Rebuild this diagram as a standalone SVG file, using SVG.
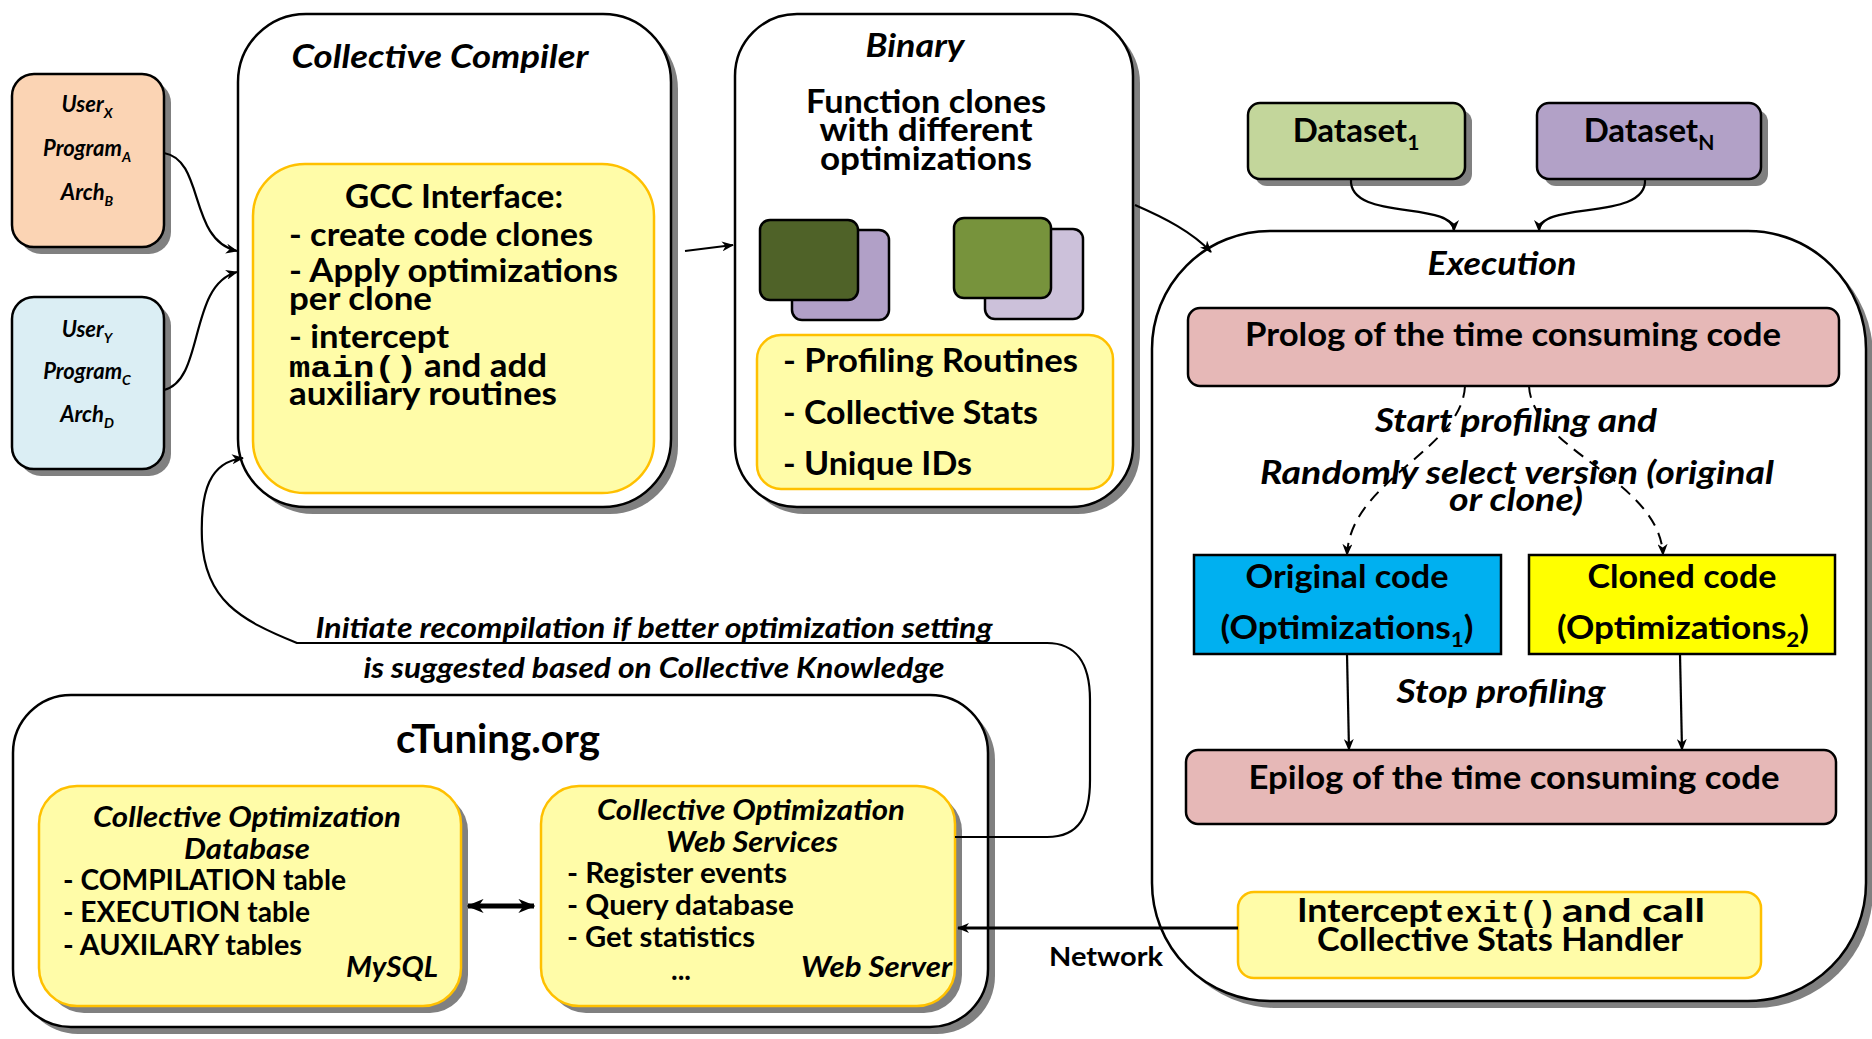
<svg xmlns="http://www.w3.org/2000/svg" width="1872" height="1039" viewBox="0 0 1872 1039">
<defs>
<style>
text{font-family:Lato,"Open Sans","DejaVu Sans",sans-serif;font-weight:bold;fill:#000}
.it{font-style:italic}
.mono{font-family:"Liberation Mono","DejaVu Sans Mono",monospace;font-weight:bold}
.sh{fill:#808080;stroke:none}
.box{stroke:#000;stroke-width:2.5}
.yl{fill:#FFFCA8;stroke:#FFC000;stroke-width:2.5}
.c{text-anchor:middle}
.r{text-anchor:end}
.ln{fill:none;stroke:#000;stroke-width:2.2}
.net{fill:none;stroke:#000;stroke-width:3}
.dbl{fill:none;stroke:#000;stroke-width:5}
.dash{fill:none;stroke:#000;stroke-width:2;stroke-dasharray:12 8}
</style>
<marker id="ah" viewBox="0 0 12 10" refX="11" refY="5" markerWidth="12" markerHeight="10" markerUnits="userSpaceOnUse" orient="auto">
<path d="M0,0 L12,5 L0,10 L3.5,5 z" fill="#000"/>
</marker>
<marker id="ah2" viewBox="0 0 12 10" refX="11" refY="5" markerWidth="17" markerHeight="15" markerUnits="userSpaceOnUse" orient="auto-start-reverse">
<path d="M0,0 L12,5 L0,10 L3.5,5 z" fill="#000"/>
</marker>
</defs>
<rect width="1872" height="1039" fill="#fff"/>

<g id="userX">
<rect class="sh" x="19" y="81" width="152" height="173" rx="22"/>
<rect class="box" x="12" y="74" width="152" height="173" rx="22" fill="#FBD4B4"/>
<text class="c it" x="87" y="112" font-size="22">User<tspan font-size="14" dy="6">X</tspan></text>
<text class="c it" x="87" y="156" font-size="22">Program<tspan font-size="14" dy="6">A</tspan></text>
<text class="c it" x="87" y="200" font-size="22">Arch<tspan font-size="14" dy="6">B</tspan></text>
</g>
<g id="userY">
<rect class="sh" x="19" y="304" width="152" height="172" rx="22"/>
<rect class="box" x="12" y="297" width="152" height="172" rx="22" fill="#DBEEF4"/>
<text class="c it" x="87" y="337" font-size="22">User<tspan font-size="14" dy="6">Y</tspan></text>
<text class="c it" x="87" y="379" font-size="22">Program<tspan font-size="14" dy="6">C</tspan></text>
<text class="c it" x="87" y="422" font-size="22">Arch<tspan font-size="14" dy="6">D</tspan></text>
</g>

<g id="compiler">
<rect class="sh" x="245" y="21" width="433" height="493" rx="68"/>
<rect class="box" x="238" y="14" width="433" height="493" rx="68" fill="#fff"/>
<text class="c it" x="440" y="68" font-size="33" textLength="297" lengthAdjust="spacingAndGlyphs">Collective Compiler</text>
<g id="gcc">
<rect class="yl" x="253" y="164" width="401" height="329" rx="52"/>
<text class="c" x="454" y="208" font-size="33" textLength="218" lengthAdjust="spacingAndGlyphs">GCC Interface:</text>
<text x="289" y="246" font-size="33" textLength="304" lengthAdjust="spacingAndGlyphs">- create code clones</text>
<text x="289" y="282" font-size="33" textLength="329" lengthAdjust="spacingAndGlyphs">- Apply optimizations</text>
<text x="289" y="310" font-size="33" textLength="143" lengthAdjust="spacingAndGlyphs">per clone</text>
<text x="289" y="348" font-size="33" textLength="160" lengthAdjust="spacingAndGlyphs">- intercept</text>
<text class="mono" x="289" y="377" font-size="30" textLength="128" lengthAdjust="spacingAndGlyphs">main()</text>
<text x="424" y="377" font-size="33" textLength="123" lengthAdjust="spacingAndGlyphs">and add</text>
<text x="289" y="405" font-size="33" textLength="268" lengthAdjust="spacingAndGlyphs">auxiliary routines</text>
</g>
</g>

<g id="binary">
<rect class="sh" x="742" y="21" width="398" height="493" rx="62"/>
<rect class="box" x="735" y="14" width="398" height="493" rx="62" fill="#fff"/>
<text class="c it" x="915" y="57" font-size="33" textLength="99" lengthAdjust="spacingAndGlyphs">Binary</text>
<text class="c" x="926" y="113" font-size="33" textLength="240" lengthAdjust="spacingAndGlyphs">Function clones</text>
<text class="c" x="926" y="141" font-size="33" textLength="213" lengthAdjust="spacingAndGlyphs">with different</text>
<text class="c" x="926" y="170" font-size="33" textLength="212" lengthAdjust="spacingAndGlyphs">optimizations</text>
<rect class="box" x="792" y="230" width="97" height="90" rx="10" fill="#B1A0C7"/>
<rect class="box" x="760" y="220" width="98" height="80" rx="10" fill="#4F6228"/>
<rect class="box" x="985" y="229" width="98" height="90" rx="10" fill="#CCC1DA"/>
<rect class="box" x="954" y="218" width="97" height="80" rx="10" fill="#77933C"/>
<rect class="yl" x="757" y="335" width="356" height="154" rx="24"/>
<text x="783" y="372" font-size="33" textLength="295" lengthAdjust="spacingAndGlyphs">- Profiling Routines</text>
<text x="783" y="424" font-size="33" textLength="255" lengthAdjust="spacingAndGlyphs">- Collective Stats</text>
<text x="783" y="475" font-size="33" textLength="189" lengthAdjust="spacingAndGlyphs">- Unique IDs</text>
</g>

<g id="dataset1">
<rect class="sh" x="1255" y="110" width="217" height="76" rx="12"/>
<rect class="box" x="1248" y="103" width="217" height="76" rx="12" fill="#C3D69B"/>
<text class="c" x="1356" y="142" font-size="33">Dataset<tspan font-size="21" dy="8">1</tspan></text>
</g>
<g id="datasetN">
<rect class="sh" x="1544" y="110" width="224" height="76" rx="12"/>
<rect class="box" x="1537" y="103" width="224" height="76" rx="12" fill="#B2A1C7"/>
<text class="c" x="1649" y="142" font-size="33">Dataset<tspan font-size="21" dy="8">N</tspan></text>
</g>

<g id="execution">
<rect class="sh" x="1159" y="238" width="714" height="770" rx="118"/>
<rect class="box" x="1152" y="231" width="714" height="770" rx="118" fill="#fff"/>
<text class="c it" x="1502" y="275" font-size="33" textLength="149" lengthAdjust="spacingAndGlyphs">Execution</text>
</g>
<g id="prolog">
<rect class="box" x="1188" y="308" width="651" height="78" rx="12" fill="#E6B8B7"/>
<text class="c" x="1513" y="346" font-size="33" textLength="536" lengthAdjust="spacingAndGlyphs">Prolog of the time consuming code</text>
</g>
<g id="original">
<rect class="box" x="1194" y="555" width="307" height="99" fill="#00B0F0"/>
<text class="c" x="1347" y="588" font-size="33" textLength="203" lengthAdjust="spacingAndGlyphs">Original code</text>
<text class="c" x="1347" y="639" font-size="33" textLength="253" lengthAdjust="spacingAndGlyphs">(Optimizations<tspan font-size="21" dy="8">1</tspan><tspan dy="-8">)</tspan></text>
</g>
<g id="cloned">
<rect class="box" x="1529" y="555" width="306" height="99" fill="#FFFF00"/>
<text class="c" x="1682" y="588" font-size="33" textLength="189" lengthAdjust="spacingAndGlyphs">Cloned code</text>
<text class="c" x="1683" y="639" font-size="33" textLength="252" lengthAdjust="spacingAndGlyphs">(Optimizations<tspan font-size="21" dy="8">2</tspan><tspan dy="-8">)</tspan></text>
</g>
<g id="epilog">
<rect class="box" x="1186" y="750" width="650" height="74" rx="12" fill="#E6B8B7"/>
<text class="c" x="1514" y="789" font-size="33" textLength="531" lengthAdjust="spacingAndGlyphs">Epilog of the time consuming code</text>
</g>
<g id="intercept">
<rect class="yl" x="1238" y="892" width="523" height="86" rx="16"/>
<text x="1297" y="922" font-size="33" textLength="145" lengthAdjust="spacingAndGlyphs">Intercept</text>
<text class="mono" x="1446" y="922" font-size="30" textLength="110" lengthAdjust="spacingAndGlyphs">exit()</text>
<text x="1562" y="922" font-size="33" textLength="143" lengthAdjust="spacingAndGlyphs">and call</text>
<text class="c" x="1500" y="951" font-size="33" textLength="366" lengthAdjust="spacingAndGlyphs">Collective Stats Handler</text>
</g>

<g id="ctuning">
<rect class="sh" x="20" y="702" width="975" height="332" rx="58"/>
<rect class="box" x="13" y="695" width="975" height="332" rx="58" fill="#fff"/>
<text class="c" x="498" y="753" font-size="41" textLength="204" lengthAdjust="spacingAndGlyphs">cTuning.org</text>
</g>
<g id="database">
<rect class="sh" x="46" y="793" width="422" height="220" rx="38"/>
<rect class="yl" x="39" y="786" width="422" height="220" rx="38"/>
<text class="c it" x="247" y="827" font-size="29" textLength="308" lengthAdjust="spacingAndGlyphs">Collective Optimization</text>
<text class="c it" x="247" y="859" font-size="29" textLength="126" lengthAdjust="spacingAndGlyphs">Database</text>
<text x="63" y="890" font-size="29" textLength="283" lengthAdjust="spacingAndGlyphs">- COMPILATION table</text>
<text x="63" y="922" font-size="29" textLength="247" lengthAdjust="spacingAndGlyphs">- EXECUTION table</text>
<text x="63" y="955" font-size="29" textLength="239" lengthAdjust="spacingAndGlyphs">- AUXILARY tables</text>
<text class="r it" x="438" y="977" font-size="29" textLength="92" lengthAdjust="spacingAndGlyphs">MySQL</text>
</g>
<g id="webservices">
<rect class="sh" x="548" y="793" width="414" height="220" rx="38"/>
<rect class="yl" x="541" y="786" width="414" height="220" rx="38"/>
<text class="c it" x="751" y="820" font-size="29" textLength="308" lengthAdjust="spacingAndGlyphs">Collective Optimization</text>
<text class="c it" x="752" y="852" font-size="29" textLength="172" lengthAdjust="spacingAndGlyphs">Web Services</text>
<text x="567" y="883" font-size="29" textLength="220" lengthAdjust="spacingAndGlyphs">- Register events</text>
<text x="567" y="915" font-size="29" textLength="227" lengthAdjust="spacingAndGlyphs">- Query database</text>
<text x="567" y="947" font-size="29" textLength="188" lengthAdjust="spacingAndGlyphs">- Get statistics</text>
<text class="c" x="681" y="980" font-size="28">...</text>
<text class="r it" x="952" y="977" font-size="29" textLength="151" lengthAdjust="spacingAndGlyphs">Web Server</text>
</g>

<g id="connectors">
<path class="ln" d="M164,153 C205,160 188,240 237,251" marker-end="url(#ah)"/>
<path class="ln" d="M164,390 C205,380 188,285 237,272" marker-end="url(#ah)"/>
<path class="ln" d="M685,251 L733,245" marker-end="url(#ah)"/>
<path class="ln" d="M1135,205 C1165,218 1192,232 1211,252" marker-end="url(#ah)"/>
<path class="ln" d="M1351,179 C1348,222 1454,200 1454,231" marker-end="url(#ah)"/>
<path class="ln" d="M1645,179 C1648,222 1539,200 1539,231" marker-end="url(#ah)"/>
<path class="dash" d="M1465,386 C1462,450 1350,480 1347,555" marker-end="url(#ah)"/>
<path class="dash" d="M1529,386 C1532,450 1660,480 1663,555" marker-end="url(#ah)"/>
<path class="ln" d="M1347,654 L1349,750" marker-end="url(#ah)"/>
<path class="ln" d="M1680,654 L1682,750" marker-end="url(#ah)"/>
<path class="net" d="M1238,928 L958,928" marker-end="url(#ah)"/>
<path class="dbl" d="M468,906 L534,906" marker-start="url(#ah2)" marker-end="url(#ah2)"/>
<path class="ln" d="M955,837 L1047,837 C1080,837 1090,815 1090,780 L1090,700 C1090,662 1075,643 1047,643 L297,643 C240,620 205,600 202,540 C200,490 210,462 243,458" marker-end="url(#ah)"/>
<text class="c it" x="654" y="638" font-size="29" textLength="677" lengthAdjust="spacingAndGlyphs">Initiate recompilation if better optimization setting</text>
<text class="c it" x="654" y="678" font-size="29" textLength="581" lengthAdjust="spacingAndGlyphs">is suggested based on Collective Knowledge</text>
<text class="c it" x="1516" y="432" font-size="32" textLength="282" lengthAdjust="spacingAndGlyphs">Start profiling and</text>
<text class="c it" x="1517" y="484" font-size="32" textLength="514" lengthAdjust="spacingAndGlyphs">Randomly select version (original</text>
<text class="c it" x="1516" y="511" font-size="32" textLength="134" lengthAdjust="spacingAndGlyphs">or clone)</text>
<text class="c it" x="1501" y="703" font-size="32" textLength="209" lengthAdjust="spacingAndGlyphs">Stop profiling</text>
<text class="c" x="1106" y="966" font-size="27" textLength="114" lengthAdjust="spacingAndGlyphs">Network</text>
</g>
</svg>
